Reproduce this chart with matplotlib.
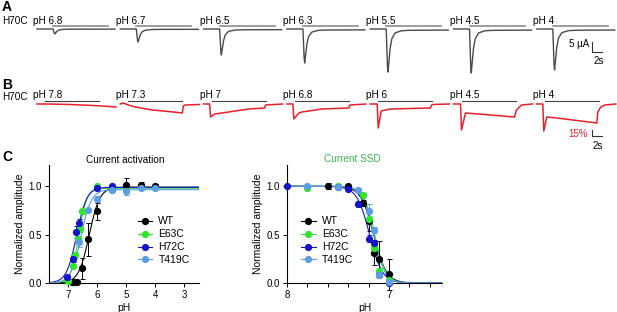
import numpy as np
import matplotlib
matplotlib.use('Agg')
import matplotlib.pyplot as plt

plt.rcParams['font.family'] = ['Liberation Sans', 'DejaVu Sans']
plt.rcParams['axes.linewidth'] = 0.8

W, H = 617, 312

# ---- panel A: H70C currents, peak amplitude (uA) per pH ----
a_ph = ['pH 6.8', 'pH 6.7', 'pH 6.5', 'pH 6.3', 'pH 5.5', 'pH 4.5', 'pH 4']
a_peak = [2.5, 6.5, 13.0, 17.0, 21.5, 22.0, 20.5]
# transient shape (time s from trace start, fraction of peak)
a_shape_t = [0, 3.2, 3.45, 3.55, 4.0, 4.35, 5.0, 6.3, 8.0, 15.6]
a_shape_f = [0, 0, 0.85, 1.0, 0.44, 0.22, 0.09, 0.04, 0.03, 0.025]

# ---- panel B: H70C fluorescence (%) ----
b_ph = ['pH 7.8', 'pH 7.3', 'pH 7', 'pH 6.8', 'pH 6', 'pH 4.5', 'pH 4']
b_t = [
    [0, 2, 6, 10, 13, 15.8],
    [0, 0.6, 1.6, 3.0, 6.4, 9.6, 12.4, 12.6, 13, 15.8],
    [0, 1.2, 1.4, 2.2, 5, 9, 12.2, 12.4, 15.8],
    [0, 1.2, 1.4, 2.4, 3, 7, 12.4, 12.6, 15.8],
    [0, 1.4, 1.6, 2.2, 4, 12, 12.4, 15.8],
    [0, 1.4, 1.6, 2.4, 5, 12.2, 12.6, 13.6, 15.8],
    [0, 1.2, 1.4, 2.0, 4, 12, 12.2, 12.8, 13.6, 15.8],
]
b_v = [
    [0, 0, -1, -3, -5, -7.5],
    [0, 2.5, -2.5, -7.5, -15, -18.75, -22.5, -5, -2.5, -1.25],
    [0, 0, -32.5, -25, -20, -12.5, -10, -2.5, 0],
    [0, 0, -37.5, -22.5, -20, -12.5, -10, -2.5, 0],
    [0, 0, -60, -17.5, -12.5, -10, -1.25, 0],
    [0, 0, -65, -22.5, -25, -32.5, -15, -2.5, 0],
    [0, 0, -67.5, -32.5, -35, -47.5, -20, -7.5, -2.5, 0],
]

# ---- panel C ----
names = ['WT', 'E63C', 'H72C', 'T419C']
colors = ['black', '#2ee62e', '#1414c8', '#5b9ee6']

act_ph = [
    [6.85, 6.75, 6.7, 6.5, 6.3, 6.0, 5.0, 4.5, 4.0],
    [7.0, 6.83, 6.75, 6.65, 6.6, 6.5, 6.0, 5.5],
    [7.02, 6.84, 6.72, 6.63, 6.0, 5.5],
    [6.61, 6.3, 6.0, 5.5, 5.0, 4.5, 4.0],
]
act_val = [
    [0.01, 0.01, 0.01, 0.15, 0.45, 0.74, 1.01, 1.01, 1.0],
    [0.02, 0.18, 0.29, 0.45, 0.56, 0.74, 1.0, 0.96],
    [0.06, 0.25, 0.53, 0.62, 0.98, 1.0],
    [0.42, 0.75, 0.87, 0.96, 0.95, 0.98, 0.98],
]
act_err = [
    [0, 0, 0, 0.11, 0.17, 0.09, 0.08, 0.03, 0.02],
    [0, 0.02, 0.03, 0.04, 0.03, 0.03, 0, 0],
    [0.02, 0.03, 0.06, 0.04, 0, 0],
    [0.05, 0.02, 0.03, 0, 0.04, 0.02, 0.01],
]
# Hill fit parameters: pH50, n, top
act_fit = [(6.27, 2.4, 0.99), (6.63, 3.2, 0.98), (6.70, 2.5, 0.99), (6.55, 2.5, 0.965)]

ssd_ph = [
    [7.6, 7.4, 7.25, 7.2, 7.15, 7.1, 7.0],
    [7.8, 7.5, 7.25, 7.2, 7.15, 7.1, 7.0],
    [8.0, 7.5, 7.4, 7.3, 7.2, 7.15, 7.1, 7.0],
    [7.8, 7.5, 7.3, 7.2, 7.15, 7.1, 7.0],
]
ssd_val = [
    [1.0, 1.0, 0.83, 0.64, 0.31, 0.25, 0.09],
    [0.98, 1.0, 0.91, 0.66, 0.36, 0.12, 0.03],
    [1.0, 0.99, 0.97, 0.82, 0.46, 0.41, 0.08, 0.0],
    [1.0, 0.99, 0.96, 0.74, 0.55, 0.08, 0.01],
]
ssd_err = [
    [0.03, 0.01, 0.03, 0.1, 0.12, 0.18, 0.16],
    [0.01, 0.01, 0.02, 0.03, 0.04, 0.03, 0.01],
    [0.01, 0.01, 0.01, 0.03, 0.04, 0.03, 0.02, 0.01],
    [0.01, 0.01, 0.02, 0.08, 0.03, 0.02, 0.01],
]
ssd_fit = [(7.15, 7.0), (7.14, 8.0), (7.19, 7.0), (7.15, 8.0)]

fig = plt.figure(figsize=(W / 100, H / 100), dpi=100)

def fax(x0, y0, x1, y1):
    # axes from pixel box (top-left origin)
    return fig.add_axes([x0 / W, 1 - y1 / H, (x1 - x0) / W, (y1 - y0) / H])

trace_start = [7.4 + i * 16.66 for i in range(7)]

# panel A
ax_a = fax(0, 12, W, 80)
ax_a.set_xlim(0, W / 5)
ax_a.set_ylim(-25.5, 8.5)
ax_a.axis('off')
for i in range(len(a_ph)):
    t0 = trace_start[i]
    ax_a.plot(np.array(a_shape_t) + t0, -a_peak[i] * np.array(a_shape_f), color='#4a4a4a', lw=1.0)
    ax_a.plot([t0 + 3.2, t0 + 14.2], [1.5, 1.5], color='#8c8c8c', lw=1.2)
    ax_a.text(t0 - 0.8, 4.2, a_ph[i], fontsize=7.2, va='center', ha='left')
ax_a.plot([118.4, 118.4, 120.4], [-6.5, -11.5, -11.5], color='#333333', lw=0.8)
ax_a.text(117.9, -7.3, '5 µA', fontsize=7, ha='right', va='center')
ax_a.text(119.8, -15.8, '2s', fontsize=7, ha='center', va='center')

# panel B
ax_b = fax(0, 88, W, 150)
ax_b.set_xlim(0, W / 5)
ax_b.set_ylim(-115, 40)
ax_b.axis('off')
for i in range(len(b_ph)):
    t0 = trace_start[i]
    ax_b.plot(np.array(b_t[i]) + t0, b_v[i], color='#e8202a', lw=1.1)
    ax_b.plot([t0 + 1.6, t0 + 12.4], [7.5, 7.5], color='#444444', lw=0.8)
    ax_b.text(t0 - 0.8, 22.5, b_ph[i], fontsize=7.2, va='center', ha='left')
ax_b.plot([118.4, 118.4, 120.4], [-65, -80, -80], color='#333333', lw=0.8)
ax_b.text(117.6, -75, '15%', fontsize=7, ha='right', va='center', color='#e8202a')
ax_b.text(119.6, -105, '2s', fontsize=7, ha='center', va='center')

fig.text(2 / W, 1 - 7 / H, 'A', fontsize=10, fontweight='bold', va='center')
fig.text(2 / W, 1 - 85 / H, 'B', fontsize=10, fontweight='bold', va='center')
fig.text(2 / W, 1 - 157 / H, 'C', fontsize=10, fontweight='bold', va='center')
fig.text(2 / W, 1 - 21 / H, 'H70C', fontsize=7.2, va='center')
fig.text(2 / W, 1 - 97 / H, 'H70C', fontsize=7.2, va='center')

# panel C left: activation
ax_c1 = fax(49, 165, 199, 283)
ax_c2 = fax(287, 165, 442, 283)

xs = np.linspace(7.65, 2.5, 300)
for k in range(4):
    p50, n, top = act_fit[k]
    ax_c1.plot(xs, top / (1 + 10 ** (n * (xs - p50))), color=colors[k], lw=0.8)
for k in range(4):
    ax_c1.errorbar(act_ph[k], act_val[k], yerr=act_err[k], fmt='o', ms=4.2, color=colors[k],
                   ecolor=colors[k], elinewidth=0.7, capsize=1.8, capthick=0.7, clip_on=False, zorder=3)
ax_c1.set_xlim(7.65, 2.5)
ax_c1.set_xticks([7, 6, 5, 4, 3])
ax_c1.set_xticklabels(['7', '6', '5', '4', '3'])

xs2 = np.linspace(8, 6.48, 300)
for k in range(4):
    p50, n = ssd_fit[k]
    ax_c2.plot(xs2, 1 / (1 + 10 ** (n * (p50 - xs2))), color=colors[k], lw=0.8)
for k in range(4):
    ax_c2.errorbar(ssd_ph[k], ssd_val[k], yerr=ssd_err[k], fmt='o', ms=4.2, color=colors[k],
                   ecolor=colors[k], elinewidth=0.7, capsize=1.8, capthick=0.7, clip_on=False, zorder=3)
ax_c2.set_xlim(8, 6.48)
ax_c2.set_xticks([8, 7.8, 7.6, 7.4, 7.2, 7, 6.8, 6.6])
ax_c2.set_xticklabels(['8', '', '', '', '', '7', '', ''])

for ax in (ax_c1, ax_c2):
    ax.set_ylim(0, 1.22)
    ax.set_yticks([0, 0.5, 1.0])
    ax.set_yticklabels(['0.0', '0.5', '1.0'])
    ax.spines['top'].set_visible(False)
    ax.spines['right'].set_visible(False)
    ax.tick_params(labelsize=7, length=3, width=0.7, pad=2)
    ax.set_xlabel('pH', fontsize=7.5, labelpad=2)
    ax.set_ylabel('Normalized amplitude', fontsize=7.5, labelpad=3)
    handles = [plt.Line2D([], [], color=colors[k], marker='o', ms=4.2, lw=0.8) for k in range(4)]
    ax.legend(handles, names, frameon=False, fontsize=7.5, handlelength=1.4, handletextpad=0.6,
              labelspacing=0.28, borderpad=0, borderaxespad=0, loc='upper left',
              bbox_to_anchor=(0.59 if ax is ax_c1 else 0.09, 0.565))

ax_c1.text(0.507, 1.0, 'Current activation', transform=ax_c1.transAxes, fontsize=7.2,
           ha='center', va='bottom')
ax_c2.text(0.42, 1.01, 'Current SSD', transform=ax_c2.transAxes, fontsize=7.2,
           ha='center', va='bottom', color='#3cb44b')

fig.savefig('out.png', dpi=100)
